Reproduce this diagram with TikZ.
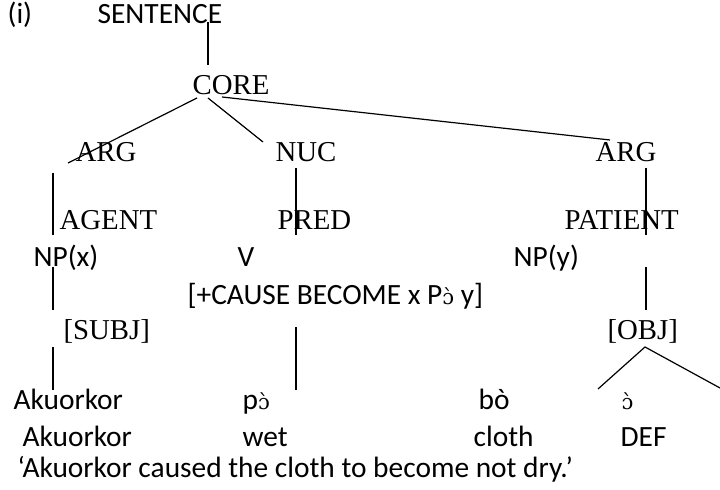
\documentclass[tikz,border=0pt]{standalone}
\usepackage{fontspec}
\setmainfont{Carlito}
\newfontfamily\tmsfont{Liberation Serif}
\newfontfamily\ipafont{DejaVu Serif}
\newcommand{\opo}{{\ipafont\fontsize{10.5}{12}\selectfont ɔ̀}}

\begin{document}
\begin{tikzpicture}[x=0.5pt,y=-0.5pt,line width=0.6pt,
  every node/.style={inner sep=0pt,anchor=base west},
  cal/.style={font=\fontsize{14.7}{17}\selectfont},
  tms/.style={font=\tmsfont\fontsize{14.4}{16}\selectfont}]
\useasboundingbox (0,0) rectangle (720,490);
% labels of the tree
\node[cal] (num) at (7,24) {(i)};
\node[cal] (sent) at (97,24) {SENTENCE};
\node[tms] (core) at (192,95) {CORE};
\node[tms] (argl) at (75,162) {ARG};
\node[tms] (nuc) at (275,162) {NUC};
\node[tms] (argr) at (595,162) {ARG};
\node[tms] (agent) at (59,230) {AGENT};
\node[tms] (pred) at (277,230) {PRED};
\node[tms] (patient) at (564,230) {PATIENT};
\node[cal] (npx) at (33,267) {NP(x)};
\node[cal] (verb) at (237,267) {V};
\node[cal] (npy) at (513,267) {NP(y)};
\node[cal] (feat) at (187,305) {[+CAUSE BECOME x P\opo\ y]};
\node[tms] (subj) at (63,340) {[SUBJ]};
\node[tms] (obj) at (607,340) {[OBJ]};
% words and glosses
\node[cal] (w1) at (13,410) {Akuorkor};
\node[cal] (w2) at (242,410) {p\opo};
\node[cal] (w3) at (478,410) {bò};
\node (w4) at (621,410) {\opo};
\node[cal] (g1) at (22,447) {Akuorkor};
\node[cal] (g2) at (242,447) {wet};
\node[cal] (g3) at (473,447) {cloth};
\node[cal] (g4) at (620,447) {DEF};
\node[cal] (trans) at (17,478) {‘Akuorkor caused the cloth to become not dry.’};
% branch ends
\coordinate (s-low) at (208,22);
\coordinate (c-high) at (208,65);
\coordinate (c-l) at (197,98);
\coordinate (c-m) at (208,98);
\coordinate (c-r) at (222,97);
\coordinate (al-up) at (68,163);
\coordinate (nu-up) at (263,142);
\coordinate (ar-up) at (610,140);
\coordinate (ag-a) at (53,173);
\coordinate (ag-b) at (53,235);
\coordinate (pr-a) at (296,168);
\coordinate (pr-b) at (296,235);
\coordinate (pa-a) at (646,168);
\coordinate (pa-b) at (646,235);
\coordinate (nx-a) at (53,267);
\coordinate (nx-b) at (53,310);
\coordinate (ny-a) at (646,267);
\coordinate (ny-b) at (646,310);
\coordinate (sj-a) at (53,347);
\coordinate (sj-b) at (53,390);
\coordinate (v-a) at (296,327);
\coordinate (v-b) at (296,390);
\coordinate (ob-top) at (645,347);
\coordinate (ob-l) at (598,389);
\coordinate (ob-r) at (720,388);
% branches
\draw (s-low) -- (c-high);
\draw (c-l) -- (al-up);
\draw (c-m) -- (nu-up);
\draw (c-r) -- (ar-up);
\draw (ag-a) -- (ag-b);
\draw (pr-a) -- (pr-b);
\draw (pa-a) -- (pa-b);
\draw (nx-a) -- (nx-b);
\draw (ny-a) -- (ny-b);
\draw (sj-a) -- (sj-b);
\draw (v-a) -- (v-b);
\draw (ob-l) -- (ob-top) -- (ob-r);
\end{tikzpicture}
\end{document}
